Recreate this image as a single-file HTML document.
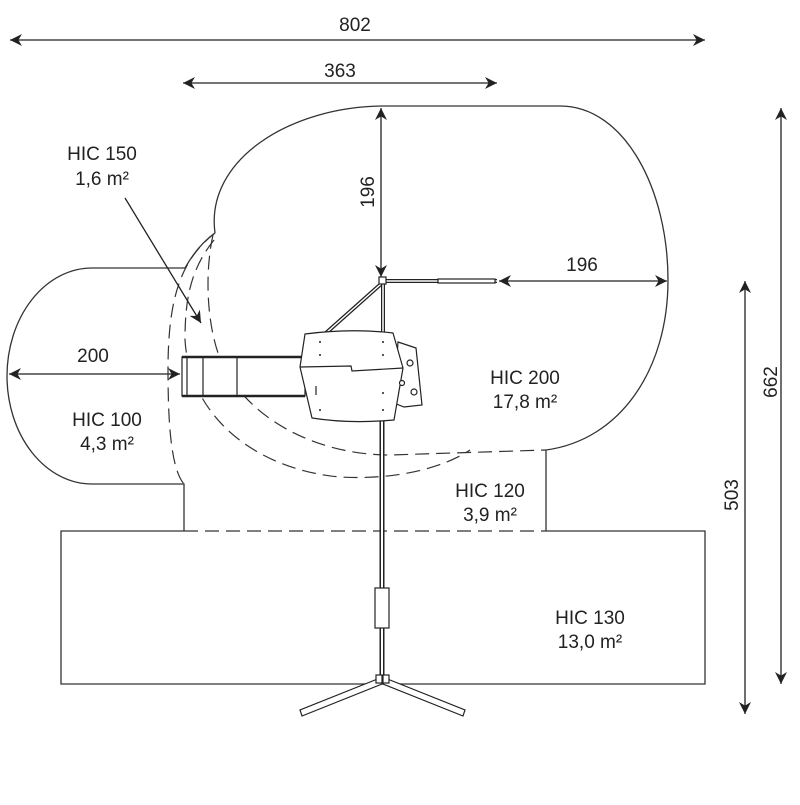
<!DOCTYPE html>
<html><head><style>
body{margin:0;background:#fff}
svg text{font-family:"Liberation Sans",sans-serif;font-size:19px;fill:#222}
</style></head><body>
<svg width="800" height="800" viewBox="0 0 800 800" xmlns="http://www.w3.org/2000/svg">
<defs>
<marker id="a" viewBox="0 0 10 10" refX="10" refY="5" markerWidth="12" markerHeight="12" markerUnits="userSpaceOnUse" orient="auto-start-reverse"><path d="M0,0 L10,5 L0,10 L3,5 z" fill="#222"/></marker>
</defs>
<g fill="none" stroke="#333" stroke-width="1.3">
<path d="M185,268 L92,268 A85,108 0 0 0 92,484 L184,484 L184,531"/>
<path d="M185,268 Q198,245 215,233"/>
<path d="M215,233 C205,160 290,106 385,106 L560,106 C625,106 668,190 668,280 C668,370 620,440 546,450 L546,531"/>
<path d="M184,531 L61,531 L61,684 L705,684 L705,531 L546,531"/>
</g>
<g fill="none" stroke="#333" stroke-width="1.2" stroke-dasharray="14,7">
<path d="M184,531 L546,531"/>
<path d="M215,233 C180,260 168,300 168,370 C168,430 172,470 184,484"/>
<path d="M214,240 C190,270 185,300 185,340 C190,420 260,470 340,477 C390,480 440,470 470,450"/>
<path d="M213,235 C205,270 205,330 225,370 C260,430 330,455 390,455 L546,450"/>
</g>
<g stroke="#222" stroke-width="1.3" fill="none">
<line x1="10" y1="40" x2="705" y2="40" marker-start="url(#a)" marker-end="url(#a)"/>
<line x1="183" y1="83" x2="497" y2="83" marker-start="url(#a)" marker-end="url(#a)"/>
<line x1="381" y1="108" x2="381" y2="277" marker-start="url(#a)" marker-end="url(#a)"/>
<line x1="499" y1="281" x2="667" y2="281" marker-start="url(#a)" marker-end="url(#a)"/>
<line x1="9" y1="374" x2="180" y2="374" marker-start="url(#a)" marker-end="url(#a)"/>
<line x1="781" y1="108" x2="781" y2="684" marker-start="url(#a)" marker-end="url(#a)"/>
<line x1="745" y1="281" x2="745" y2="714" marker-start="url(#a)" marker-end="url(#a)"/>
<line x1="125" y1="198" x2="201" y2="323" marker-end="url(#a)"/>
</g>
<g fill="#fff" stroke="#222" stroke-width="1.2">
<line x1="385" y1="281" x2="497" y2="281" stroke-width="4"/>
<line x1="385" y1="281" x2="497" y2="281" stroke="#fff" stroke-width="1.5"/>
<rect x="438" y="279" width="57" height="4" fill="#fff"/>
<line x1="381" y1="284" x2="326" y2="333" stroke-width="4"/>
<line x1="381" y1="284" x2="326" y2="333" stroke="#fff" stroke-width="1.5"/>
<line x1="383" y1="284" x2="383" y2="335" stroke-width="4"/>
<line x1="383" y1="284" x2="383" y2="335" stroke="#fff" stroke-width="1.5"/>
<rect x="379" y="277" width="7" height="7"/>
<line x1="382" y1="420" x2="382" y2="680" stroke-width="5"/>
<line x1="382" y1="420" x2="382" y2="680" stroke="#fff" stroke-width="2"/>
<rect x="375" y="588" width="14" height="40"/>
<path d="M380,678 L300,710 L302,716 L382,684 Z"/>
<path d="M385,678 L465,710 L463,716 L383,684 Z"/>
<rect x="376" y="675" width="6" height="8"/><rect x="383" y="675" width="6" height="8"/>
<rect x="182" y="357" width="123" height="39"/>
<line x1="182" y1="357" x2="305" y2="357" stroke-width="2.5"/>
<line x1="182" y1="396" x2="305" y2="396" stroke-width="2.5"/>
<line x1="203" y1="357" x2="203" y2="396"/>
<line x1="237" y1="357" x2="237" y2="396"/>
<line x1="187" y1="357" x2="187" y2="396"/>
<path d="M398,342 L416,348 L422,405 L404,407 L394,403 Z"/>
<path d="M305,334 Q350,328 393,333 L403,368 L394,420 Q350,424 312,418 L300,367 Z"/>
<path d="M300,367 L351,366 L352,371 L403,368" fill="none"/>
<line x1="316" y1="386" x2="316" y2="395"/>
<circle cx="410" cy="363" r="3"/><circle cx="402" cy="383" r="2.5"/><circle cx="414" cy="392" r="3"/>
</g>
<g fill="#222">
<circle cx="320" cy="342" r="1"/><circle cx="383" cy="342" r="1"/><circle cx="320" cy="355" r="1"/><circle cx="383" cy="355" r="1"/><circle cx="383" cy="393" r="1"/><circle cx="320" cy="410" r="1"/><circle cx="383" cy="410" r="1"/>
</g>
<text x="355" y="31" text-anchor="middle">802</text>
<text x="340" y="77" text-anchor="middle">363</text>
<text x="582" y="271" text-anchor="middle">196</text>
<text x="93" y="362" text-anchor="middle">200</text>
<text transform="translate(374,192) rotate(-90)" text-anchor="middle">196</text>
<text transform="translate(777,382) rotate(-90)" text-anchor="middle">662</text>
<text transform="translate(738,495) rotate(-90)" text-anchor="middle">503</text>
<text x="102" y="160" text-anchor="middle">HIC 150</text>
<text x="102" y="185" text-anchor="middle">1,6 m²</text>
<text x="107" y="426" text-anchor="middle">HIC 100</text>
<text x="107" y="450" text-anchor="middle">4,3 m²</text>
<text x="525" y="384" text-anchor="middle">HIC 200</text>
<text x="525" y="408" text-anchor="middle">17,8 m²</text>
<text x="490" y="497" text-anchor="middle">HIC 120</text>
<text x="490" y="521" text-anchor="middle">3,9 m²</text>
<text x="590" y="624" text-anchor="middle">HIC 130</text>
<text x="590" y="648" text-anchor="middle">13,0 m²</text>
</svg>
</body></html>
